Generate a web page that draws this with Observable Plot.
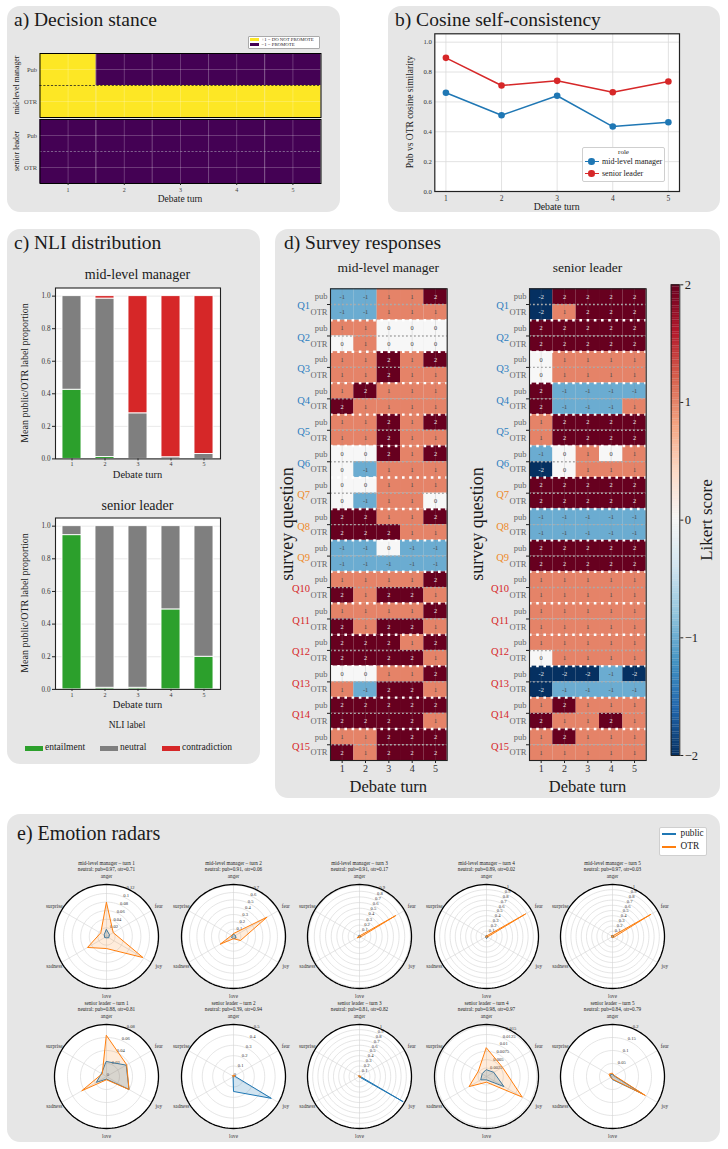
<!DOCTYPE html>
<html><head><meta charset="utf-8">
<script src="https://cdn.jsdelivr.net/npm/d3@7"></script>
<script src="https://cdn.jsdelivr.net/npm/@observablehq/plot@0.6"></script>
<style>
html,body{margin:0;padding:0;background:#fff;}
#root{position:relative;width:728px;height:1149px;overflow:hidden;font-family:"Liberation Serif","DejaVu Serif",serif;color:#1a1a1a;}
.box{position:absolute;background:#e6e6e6;border-radius:13px;}
.abs{position:absolute;white-space:nowrap;line-height:1;}
.sw{position:absolute;}
</style></head><body><div id="root"></div>
<script>
// ================= DATA =================
const turns = [1, 2, 3, 4, 5];
const roles = ["mid-level manager", "senior leader"];

// a) Decision stance (+1 = DO NOT PROMOTE, -1 = PROMOTE)
const stanceMidPub = [1, -1, -1, -1, -1];
const stanceMidOTR = [1, 1, 1, 1, 1];
const stanceSenPub = [-1, -1, -1, -1, -1];
const stanceSenOTR = [-1, -1, -1, -1, -1];
const stanceLegend = ["+1 = DO NOT PROMOTE", "−1 = PROMOTE"];

// b) Cosine self-consistency
const cosineMid = [0.661, 0.511, 0.641, 0.435, 0.464];
const cosineSen = [0.895, 0.710, 0.741, 0.665, 0.737];
const cosineTicks = [0, 0.2, 0.4, 0.6, 0.8, 1.0];

// c) NLI distribution
const nliLabels = ["entailment", "neutral", "contradiction"];
const nliMidEntail  = [0.425, 0.012, 0, 0, 0];
const nliMidNeutral = [0.575, 0.973, 0.28, 0.01, 0.03];
const nliMidContra  = [0, 0.015, 0.72, 0.99, 0.97];
const nliSenEntail  = [0.945, 0.01, 0.01, 0.49, 0.20];
const nliSenNeutral = [0.055, 0.99, 0.99, 0.51, 0.80];
const nliSenContra  = [0, 0, 0, 0, 0];
const nliTicks = [0, 0.2, 0.4, 0.6, 0.8, 1.0];

// d) Survey responses (rows = Q1..Q15, cols = turns 1..5)
const questions = ["Q1","Q2","Q3","Q4","Q5","Q6","Q7","Q8","Q9","Q10","Q11","Q12","Q13","Q14","Q15"];
const questionGroup = [0,0,0,0,0,0,1,1,1,2,2,2,2,2,2];
const surveyMidPub = [[-1,-1,1,1,2],[1,1,0,0,0],[1,1,2,1,2],[1,2,1,1,1],[1,1,2,1,2],[0,0,2,1,2],[0,0,1,1,1],[2,2,1,1,2],[-1,-1,0,-1,-1],[1,1,1,1,2],[1,1,1,1,2],[2,2,2,1,2],[0,0,1,1,2],[2,2,2,2,2],[1,1,2,2,2]];
const surveyMidOTR = [[-1,-1,1,1,1],[0,1,0,0,0],[1,1,2,1,1],[2,1,1,1,1],[1,1,2,1,1],[0,-1,1,1,1],[0,-1,1,1,0],[2,2,2,1,1],[-1,-1,-1,-1,-1],[2,1,2,2,1],[2,1,2,2,1],[2,2,2,2,1],[1,-1,2,2,1],[2,2,2,2,1],[2,1,2,2,2]];
const surveySenPub = [[-2,2,2,2,2],[2,2,2,2,2],[0,1,1,1,1],[2,-1,-1,-1,-1],[1,2,2,2,2],[-1,0,1,0,1],[2,2,2,2,2],[-1,-1,-1,-1,-1],[2,2,2,2,2],[1,1,1,1,1],[1,1,1,1,1],[1,1,1,1,1],[-2,-2,-2,-1,-2],[1,2,1,1,1],[1,2,1,1,1]];
const surveySenOTR = [[-2,1,2,2,2],[2,2,2,2,2],[0,1,1,1,1],[2,-1,-1,-1,1],[1,2,2,2,2],[-2,0,1,1,1],[2,2,2,2,2],[-1,-1,-1,-1,-1],[2,2,2,2,2],[1,1,1,1,1],[1,1,1,1,1],[0,1,1,1,1],[-2,-1,-1,-1,-1],[2,1,1,2,1],[1,1,1,1,1]];
const likertTicks = [-2, -1, 0, 1, 2];

// e) Emotion radars
const emotions = ["anger","fear","joy","love","sadness","surprise"];
const emoMidPub = [
  [0.016,0.008,0.006,0.003,0.005,0.006],
  [0.03,0.03,0.04,0.03,0.03,0.02],
  [0.02,0.02,0.02,0.02,0.03,0.02],
  [0.02,0.02,0.03,0.04,0.02,0.01],
  [0.02,0.03,0.02,0.03,0.02,0.02]];
const emoMidOTR = [
  [0.079,0.018,0.098,0.028,0.051,0.016],
  [0.04,0.53,0.11,0.03,0.21,0.03],
  [0.01,0.74,0.02,0.01,0.05,0.01],
  [0.01,0.87,0.02,0.02,0.02,0.01],
  [0.01,0.855,0.03,0.02,0.02,0.02]];
const emoSenPub = [
  [0.023,0.035,0.04,0.004,0.018,0.009],
  [0.005,0.01,0.42,0.144,0.005,0.005],
  [0.01,0.01,0.97,0.01,0.01,0.01],
  [0.002,0.0025,0.006,0.001,0.002,0.0015],
  [0.008,0.006,0.133,0.012,0.006,0.01]];
const emoSenOTR = [
  [0.063,0.036,0.04,0.005,0.044,0.008],
  [0.01,0.02,0.005,0.005,0.005,0.01],
  [0.01,0.02,0.03,0.01,0.01,0.02],
  [0.0085,0.0055,0.0123,0.0017,0.006,0.0029],
  [0.012,0.008,0.146,0.01,0.008,0.015]];
const neutralMidPub = [0.97, 0.91, 0.91, 0.89, 0.97];
const neutralMidOTR = [0.71, 0.06, 0.17, 0.02, 0.03];
const neutralSenPub = [0.88, 0.39, 0.81, 0.98, 0.84];
const neutralSenOTR = [0.81, 0.94, 0.82, 0.97, 0.79];
const radarMaxMid = [0.121, 0.71, 0.92, 1.0, 1.0];
const radarMaxSen = [0.08, 0.5, 1.0, 0.0155, 0.2];
const radarTicksMid = [
  [0.02,0.04,0.06,0.08,0.1,0.12],
  [0.1,0.2,0.3,0.4,0.5,0.6,0.7],
  [0.1,0.2,0.3,0.4,0.5,0.6,0.7,0.8,0.9],
  [0.1,0.2,0.3,0.4,0.5,0.6,0.7,0.8,0.9,1],
  [0.1,0.2,0.3,0.4,0.5,0.6,0.7,0.8,0.9,1]];
const radarTicksSen = [
  [0,0.02,0.04,0.06,0.08],
  [0,0.1,0.2,0.3,0.4,0.5],
  [0.1,0.2,0.3,0.4,0.5,0.6,0.7,0.8,0.9,1],
  [0.0025,0.005,0.0075,0.01,0.0125,0.015],
  [0.05,0.1,0.15,0.2]];

// ================= STYLE =================
const SERIF = '"Liberation Serif","DejaVu Serif",serif';
const C_BLUE = "#1f77b4", C_ORANGE = "#ff7f0e", C_RED = "#d62728", C_GREEN = "#2ca02c", C_GRAY = "#7f7f7f";
const VIRIDIS_Y = "#fde725", VIRIDIS_P = "#440154";
const rdbuR = ["#053061","#2166ac","#4393c3","#92c5de","#d1e5f0","#f7f7f7","#fddbc7","#f4a582","#d6604d","#b2182b","#67001f"];
const likertColor = {type: "linear", domain: [-2, 2], interpolate: d3.piecewise(d3.interpolateRgb, rdbuR)};
const qGroupColor = ["#2f7fc1", "#ee8a2a", "#d62728"];

const root = document.getElementById("root");
function st(extra) { return Object.assign({background: "transparent", fontFamily: SERIF, overflow: "visible", color: "#222"}, extra || {}); }
function box(x, y, w, h) { const d = document.createElement("div"); d.className = "box"; Object.assign(d.style, {left: x+"px", top: y+"px", width: w+"px", height: h+"px"}); root.appendChild(d); return d; }
function txt(s, x, y, size, o = {}) {
  const d = document.createElement("div"); d.className = "abs"; d.textContent = s;
  const a = o.anchor || "middle";
  const tx = a === "start" ? "0" : a === "end" ? "-100%" : "-50%";
  d.style.left = x + "px"; d.style.top = y + "px"; d.style.fontSize = size + "px";
  d.style.transform = `translate(${tx},-50%)` + (o.rotate ? ` rotate(${o.rotate}deg)` : "");
  if (o.color) d.style.color = o.color;
  root.appendChild(d); return d;
}
function rectDiv(x, y, w, h, css) { const d = document.createElement("div"); d.className = "sw"; Object.assign(d.style, {left: x+"px", top: y+"px", width: w+"px", height: h+"px"}, css || {}); root.appendChild(d); return d; }
function place(node, left, top) { node.style.position = "absolute"; node.style.left = left + "px"; node.style.top = top + "px"; root.appendChild(node); }

// ================= PANEL BOXES =================
box(7, 6, 333, 206);
box(388, 6, 332, 206);
box(7, 229, 253, 535);
box(275, 229, 445, 569);
box(7, 814, 713, 328);

// ================= a) Decision stance =================
txt("a) Decision stance", 14, 19.5, 19.5, {anchor: "start"});
{
  const table = [];
  [[roles[0], stanceMidPub, stanceMidOTR], [roles[1], stanceSenPub, stanceSenOTR]].forEach(([role, pub, otr]) =>
    turns.forEach((t, i) => { table.push({role, kind: "Pub", turn: t, value: pub[i]}); table.push({role, kind: "OTR", turn: t, value: otr[i]}); }));
  const p = Plot.plot({
    width: 332, height: 182, marginLeft: 31.5, marginRight: 19.5, marginTop: 22.7, marginBottom: 28,
    style: st(),
    x: {domain: [0.5, 5.5]},
    y: {domain: [0, 2]},
    fy: {domain: roles, paddingInner: 0.03, paddingOuter: 0, axis: null},
    color: {type: "ordinal", domain: [1, -1], range: [VIRIDIS_Y, VIRIDIS_P]},
    marks: [
      Plot.rect(table, {x1: d => d.turn - 0.5, x2: d => d.turn + 0.5, y1: d => d.kind === "Pub" ? 1 : 0, y2: d => d.kind === "Pub" ? 2 : 1, fy: "role", fill: "value"}),
      Plot.ruleX(d3.range(1, 5.6, 0.5), {stroke: "white", strokeOpacity: 0.28, strokeWidth: 0.8}),
      Plot.ruleY([0.5, 1.5], {stroke: "white", strokeOpacity: 0.28, strokeWidth: 0.8}),
      Plot.ruleY([{role: roles[0]}], {y: () => 1, fy: "role", stroke: "#222", strokeWidth: 0.8, strokeDasharray: "2.2,1.6"}),
      Plot.ruleY([{role: roles[1]}], {y: () => 1, fy: "role", stroke: "#9a8aa8", strokeWidth: 0.7, strokeDasharray: "2.2,1.6"}),
      Plot.frame({stroke: "black", strokeWidth: 1}),
      Plot.axisY([0.5, 1.5], {tickFormat: d => d > 1 ? "Pub" : "OTR", tickSize: 0, tickPadding: 3, fontSize: 6.5, fill: "#444", label: null}),
      Plot.axisX(turns, {tickSize: 2, tickPadding: 2, fontSize: 6, fill: "#444", label: null})
    ]
  });
  place(p, 8, 30);
  txt(roles[0], 17, 85, 7.8, {rotate: -90});
  txt(roles[1], 17, 151, 7.8, {rotate: -90});
  txt("Debate turn", 180, 200, 9.5);
  // legend
  rectDiv(248, 35.7, 72, 13.3, {background: "#fff", border: "0.6px solid #aaa", borderRadius: "1px", boxSizing: "border-box"});
  rectDiv(250, 37.8, 8.6, 3.6, {background: VIRIDIS_Y});
  rectDiv(250, 42.8, 8.6, 3.6, {background: VIRIDIS_P});
  txt(stanceLegend[0], 261.5, 39.6, 4.8, {anchor: "start"});
  txt(stanceLegend[1], 261.5, 44.6, 4.8, {anchor: "start"});
}

// ================= b) Cosine self-consistency =================
txt("b) Cosine self-consistency", 395, 19.5, 19.5, {anchor: "start"});
{
  const data = [];
  turns.forEach((t, i) => { data.push({role: roles[0], turn: t, value: cosineMid[i]}); });
  turns.forEach((t, i) => { data.push({role: roles[1], turn: t, value: cosineSen[i]}); });
  const p = Plot.plot({
    width: 332, height: 182, marginLeft: 46.3, marginRight: 41, marginTop: 3.3, marginBottom: 21,
    style: st(),
    x: {domain: [0.8, 5.2]},
    y: {domain: [0, 1.056]},
    color: {domain: roles, range: [C_BLUE, C_RED]},
    marks: [
      Plot.frame({fill: "white"}),
      Plot.gridX(turns, {stroke: "#dadada", strokeOpacity: 1, strokeWidth: 0.8}),
      Plot.gridY(cosineTicks, {stroke: "#dadada", strokeOpacity: 1, strokeWidth: 0.8}),
      Plot.line(data, {x: "turn", y: "value", stroke: "role", strokeWidth: 1.5}),
      Plot.dot(data, {x: "turn", y: "value", fill: "role", r: 3.3}),
      Plot.frame({stroke: "#222", strokeWidth: 1.2}),
      Plot.axisY(cosineTicks, {tickFormat: d3.format(".1f"), tickSize: 0, tickPadding: 3, fontSize: 6.7, fill: "#333", label: null}),
      Plot.axisX(turns, {tickSize: 0, tickPadding: 4, fontSize: 7.5, fill: "#333", label: null})
    ]
  });
  place(p, 388, 30);
  txt("Pub vs OTR cosine similarity", 411, 112, 9.5, {rotate: -90});
  txt("Debate turn", 556.7, 207, 9.8);
  rectDiv(582, 147, 83, 35, {background: "#fff", border: "0.8px solid #cfcfcf", borderRadius: "2px", boxSizing: "border-box"});
  txt("role", 623.5, 152.3, 7);
  [[C_BLUE, roles[0], 161.6], [C_RED, roles[1], 173.7]].forEach(([c, lab, y]) => {
    rectDiv(585, y - 0.75, 14, 1.5, {background: c});
    rectDiv(588.4, y - 3.3, 6.6, 6.6, {background: c, borderRadius: "50%"});
    txt(lab, 602, y, 8, {anchor: "start"});
  });
}

// ================= c) NLI distribution =================
txt("c) NLI distribution", 14, 242.5, 19.5, {anchor: "start"});
function nliPlot(ent, neu, con, mb) {
  const rows = [];
  turns.forEach((t, i) => {
    rows.push({turn: t, label: nliLabels[0], value: ent[i]});
    rows.push({turn: t, label: nliLabels[1], value: neu[i]});
    rows.push({turn: t, label: nliLabels[2], value: con[i]});
  });
  return Plot.plot({
    width: 252, height: 190, marginLeft: 47, marginRight: 40, marginTop: 7.5, marginBottom: mb,
    style: st(),
    x: {type: "band", domain: turns, paddingInner: 0.43, paddingOuter: 0.215},
    y: {domain: [0, 1.05]},
    color: {domain: nliLabels, range: [C_GREEN, C_GRAY, C_RED]},
    marks: [
      Plot.frame({fill: "white"}),
      Plot.gridY(nliTicks, {stroke: "#e3e3e3", strokeOpacity: 1, strokeWidth: 0.8}),
      Plot.barY(rows, {x: "turn", y: "value", fill: "label", order: nliLabels, stroke: "white", strokeWidth: 0.9}),
      Plot.frame({stroke: "#222", strokeWidth: 1.1}),
      Plot.axisX({tickSize: 2, tickPadding: 1, fontSize: 6, fill: "#333", label: null}),
      Plot.axisY(nliTicks, {tickFormat: d3.format(".1f"), tickSize: 3, tickPadding: 2, fontSize: 7.2, fill: "#333", label: null})
    ]
  });
}
place(nliPlot(nliMidEntail, nliMidNeutral, nliMidContra, 11.6), 8, 280);
place(nliPlot(nliSenEntail, nliSenNeutral, nliSenContra, 11.1), 8, 510);
txt(roles[0], 137.5, 275, 14);
txt(roles[1], 137.5, 505.8, 14);
txt("Debate turn", 137.5, 474.5, 10.5);
txt("Debate turn", 137.5, 704.5, 10.5);
txt("Mean public/OTR label proportion", 25, 373, 10, {rotate: -90});
txt("Mean public/OTR label proportion", 25, 603, 10, {rotate: -90});
txt("NLI label", 127, 726, 9.5);
[[C_GREEN, nliLabels[0], 25, 45], [C_GRAY, nliLabels[1], 100, 120], [C_RED, nliLabels[2], 162, 182]].forEach(([c, lab, x0, xt]) => {
  rectDiv(x0, 745.5, 18, 5, {background: c});
  txt(lab, xt, 748, 9.5, {anchor: "start"});
});

// ================= d) Survey responses =================
txt("d) Survey responses", 284, 242.5, 19.5, {anchor: "start"});
function surveyPlot(pubArr, otrArr) {
  const rows = [];
  questions.forEach((q, qi) => turns.forEach((t, ti) => {
    rows.push({q, qi, kind: "pub", row: 2 * qi, turn: t, value: pubArr[qi][ti]});
    rows.push({q, qi, kind: "OTR", row: 2 * qi + 1, turn: t, value: otrArr[qi][ti]});
  }));
  const qs = questions.map((q, i) => ({q, i, g: questionGroup[i]}));
  return Plot.plot({
    width: 172, height: 510, marginLeft: 50, marginRight: 5.3, marginTop: 8.3, marginBottom: 30,
    style: st(),
    x: {domain: [0.5, 5.5]},
    y: {domain: [0, 30], reverse: true},
    color: likertColor,
    marks: [
      Plot.rect(rows, {x1: d => d.turn - 0.5, x2: d => d.turn + 0.5, y1: "row", y2: d => d.row + 1, fill: "value"}),
      Plot.ruleX(turns, {stroke: "#888", strokeOpacity: 0.3, strokeWidth: 0.6}),
      Plot.ruleY(d3.range(1, 30, 2), {stroke: "#aaa", strokeWidth: 1.4, strokeDasharray: "1.8,2.2"}),
      Plot.ruleY(d3.range(2, 30, 2), {stroke: "white", strokeWidth: 2.4, strokeDasharray: "2.6,4.6"}),
      Plot.text(rows.filter(d => Math.abs(d.value) >= 2), {x: "turn", y: d => d.row + 0.5, text: d => String(d.value), fill: "#eee", fontSize: 6.3}),
      Plot.text(rows.filter(d => Math.abs(d.value) < 2), {x: "turn", y: d => d.row + 0.5, text: d => String(d.value), fill: "#444", fontSize: 6.3}),
      Plot.frame({stroke: "#222", strokeWidth: 1.1}),
      Plot.axisX(turns, {tickSize: 3, tickPadding: 1.5, fontSize: 10, fill: "#333", label: null}),
      Plot.axisY(d3.range(1, 30, 2), {tickSize: 3, tickFormat: () => "", label: null}),
      Plot.text(rows.filter(d => d.turn === 1), {y: d => d.row + 0.5, text: "kind", frameAnchor: "left", dx: -3, textAnchor: "end", fill: "#666", fontSize: 8.5}),
      ...[0, 1, 2].map(g => Plot.text(qs.filter(d => d.g === g), {y: d => 2 * d.i + 1.1, text: "q", frameAnchor: "left", dx: -20.5, textAnchor: "end", fill: qGroupColor[g], fontSize: 10.5}))
    ]
  });
}
place(surveyPlot(surveyMidPub, surveyMidOTR), 280, 280);
place(surveyPlot(surveySenPub, surveySenOTR), 479.3, 280);
txt(roles[0], 388.3, 268, 13.5);
txt(roles[1], 587.5, 268, 13.5);
txt("survey question", 287, 524, 18, {rotate: -90});
txt("survey question", 477, 524, 18, {rotate: -90});
txt("Debate turn", 388.3, 787, 16.5);
txt("Debate turn", 587.5, 787, 16.5);
{
  const steps = d3.range(-2, 2, 0.02);
  const cb = Plot.plot({
    width: 40, height: 490, marginLeft: 5.7, marginRight: 25.7, marginTop: 4.3, marginBottom: 15,
    style: st(),
    x: {domain: [0, 1], axis: null},
    y: {domain: [-2, 2]},
    color: likertColor,
    marks: [
      Plot.rect(steps, {x1: 0, x2: 1, y1: d => d, y2: d => d + 0.021, fill: d => d + 0.01}),
      Plot.frame({stroke: "#222", strokeWidth: 1}),
      Plot.axisY(likertTicks, {anchor: "right", tickSize: 3, tickPadding: 2, fontSize: 12.5, fill: "#222", tickFormat: d => d < 0 ? "−" + (-d) : String(d), label: null})
    ]
  });
  place(cb, 665, 280);
  txt("Likert score", 706, 520, 17, {rotate: -90});
}

// ================= e) Emotion radars =================
txt("e) Emotion radars", 17, 833, 20, {anchor: "start"});
rectDiv(659, 827, 48, 29, {background: "#fff", border: "0.8px solid #cfcfcf", borderRadius: "2px", boxSizing: "border-box"});
rectDiv(661.5, 833.2, 14, 1.8, {background: C_BLUE});
rectDiv(661.5, 846.4, 14, 1.8, {background: C_ORANGE});
txt("public", 680.5, 834, 9.3, {anchor: "start"});
txt("OTR", 680.5, 847.3, 9.3, {anchor: "start"});

const radarCX = [106, 232.6, 359.2, 485.8, 612.4];
const radarCY = [936, 1076];
function radarPlot(pub, otr, rmax, ticks, t1, t2) {
  const A = i => i * Math.PI / 3;
  const rows = s => emotions.map((e, i) => ({e, i, v: s[i]}));
  const px = d => d.v / rmax * Math.sin(A(d.i)), py = d => d.v / rmax * Math.cos(A(d.i));
  const circ = r => d3.range(0, 360, 3).map(a => ({a: a * Math.PI / 180, r}));
  const cx = d => d.r * Math.sin(d.a), cy = d => d.r * Math.cos(d.a);
  const fmt = d => String(+d.toFixed(4));
  const R = 52;
  return Plot.plot({
    width: 126, height: 148, marginLeft: 0, marginRight: 0, marginTop: 0, marginBottom: 0,
    style: st(),
    x: {domain: [-63 / R, 63 / R], axis: null},
    y: {domain: [-68 / R, 80 / R], axis: null},
    marks: [
      Plot.line(circ(1), {x: cx, y: cy, curve: "linear-closed", fill: "white", stroke: "none"}),
      ...ticks.filter(t => t > 0).map(t => Plot.line(circ(t / rmax), {x: cx, y: cy, curve: "linear-closed", stroke: "#d3d3d3", strokeWidth: 0.6})),
      Plot.link(emotions, {x1: 0, y1: 0, x2: (e, i) => Math.sin(A(i)), y2: (e, i) => Math.cos(A(i)), stroke: "#d3d3d3", strokeWidth: 0.6}),
      Plot.text(ticks, {x: t => t / rmax * Math.sin(Math.PI / 8), y: t => t / rmax * Math.cos(Math.PI / 8), text: fmt, textAnchor: "start", dx: 0.3, dy: -1.6, fontSize: 4.6, fill: "#333"}),
      Plot.line(rows(pub), {x: px, y: py, curve: "linear-closed", stroke: C_BLUE, strokeWidth: 1, fill: C_BLUE, fillOpacity: 0.2}),
      Plot.line(rows(otr), {x: px, y: py, curve: "linear-closed", stroke: C_ORANGE, strokeWidth: 1, fill: C_ORANGE, fillOpacity: 0.15}),
      Plot.line(circ(1), {x: cx, y: cy, curve: "linear-closed", stroke: "black", strokeWidth: 1.3}),
      Plot.text(emotions, {x: (e, i) => 1.16 * Math.sin(A(i)), y: (e, i) => 1.16 * Math.cos(A(i)), text: d => d, fontSize: 5.2, fill: "#333"}),
      Plot.text([t1], {frameAnchor: "top", dy: 5, fontSize: 5.2, fill: "#222"}),
      Plot.text([t2], {frameAnchor: "top", dy: 10.8, fontSize: 5.2, fill: "#222"})
    ]
  });
}
const f2 = d3.format(".2f");
turns.forEach((t, i) => {
  place(radarPlot(emoMidPub[i], emoMidOTR[i], radarMaxMid[i], radarTicksMid[i],
    `${roles[0]} – turn ${t}`, `neutral: pub=${f2(neutralMidPub[i])}, otr=${f2(neutralMidOTR[i])}`), radarCX[i] - 63, radarCY[0] - 80);
  place(radarPlot(emoSenPub[i], emoSenOTR[i], radarMaxSen[i], radarTicksSen[i],
    `${roles[1]} – turn ${t}`, `neutral: pub=${f2(neutralSenPub[i])}, otr=${f2(neutralSenOTR[i])}`), radarCX[i] - 63, radarCY[1] - 80);
});
</script></body></html>
